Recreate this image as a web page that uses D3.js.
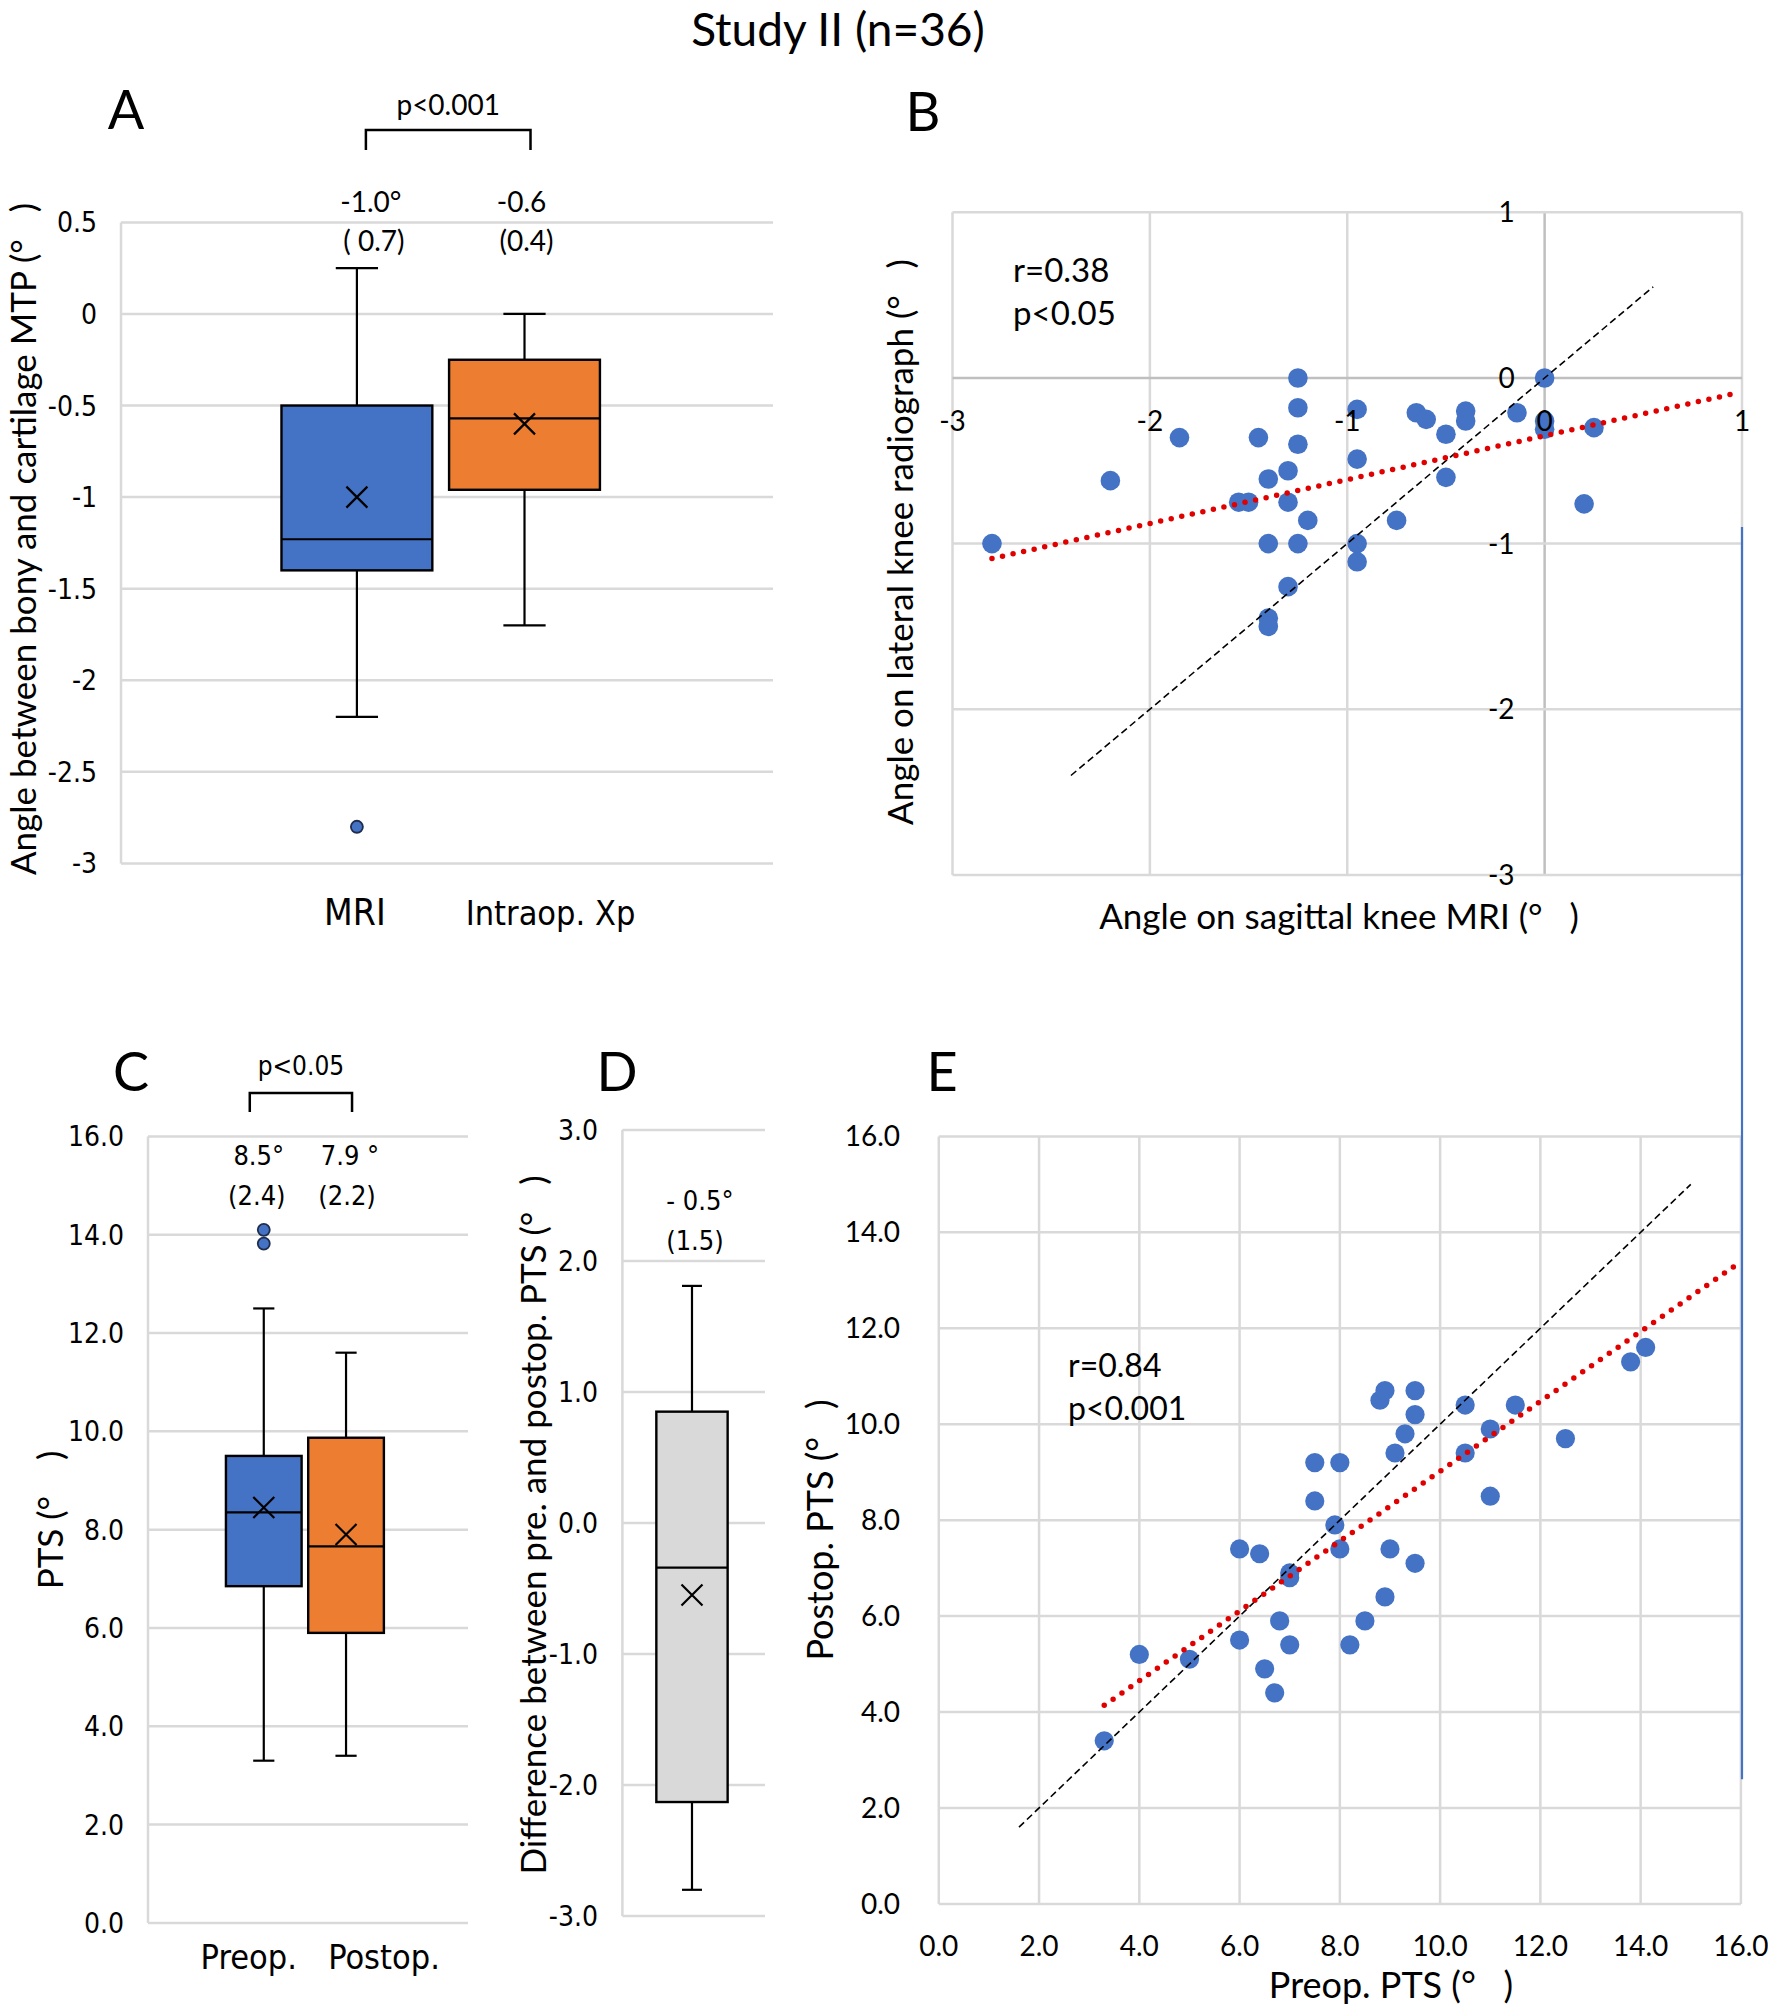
<!DOCTYPE html>
<html>
<head>
<meta charset="utf-8">
<script src="https://cdn.jsdelivr.net/npm/d3@7"></script>
<style>
  body { margin: 0; background: #fff; }
  text { white-space: pre; }
</style>
</head>
<body>
<div id="chart"></div>
<script>
// ---- data ----
const titleText = "Study II (n=36)";

// A: angle between bony and cartilage MTP
const catsA = ["MRI", "Intraop. Xp"];
const q1A = [-1.4, -0.96];
const medA = [-1.23, -0.57];
const q3A = [-0.5, -0.25];
const loA = [-2.2, -1.7];
const hiA = [0.25, 0];
const meanA = [-1.0, -0.6];
const outA = [[-2.8], []];
const meanTxtA = ["-1.0°", "-0.6"];
const sdTxtA = ["( 0.7)", "(0.4)"];
const ticksA = [0.5, 0, -0.5, -1, -1.5, -2, -2.5, -3];
const pTxtA = "p<0.001";

// B: MRI vs lateral radiograph
const mriB = [-2.8, -2.2, -1.85, -1.45, -1.55, -1.5, -1.4, -1.3, -1.3, -1.4, -1.25, -1.25,
  -1.25, -1.2, -1.25, -1.3, -1.4, -1.4, -0.95, -0.95, -0.95, -0.95, -0.75, -0.65, -0.6,
  -0.5, -0.5, -0.4, -0.4, -0.14, 0, 0, 0, 0.25, 0.2];
const xpB = [-1.0, -0.62, -0.36, -0.36, -0.75, -0.75, -0.61, -0.56, -0.75, -1.0, 0, -0.18,
  -0.4, -0.86, -1.0, -1.26, -1.45, -1.5, -0.19, -0.49, -1.0, -1.11, -0.86, -0.21, -0.25,
  -0.34, -0.6, -0.2, -0.26, -0.21, 0, -0.26, -0.31, -0.3, -0.76];
const ticksB = [-3, -2, -1, 0, 1];
const fitBx = [-2.8, 0.96];
const fitBy = [-1.09, -0.095];
const idB = [-2.4, 0.55];
const statB = ["r=0.38", "p<0.05"];

// C: preop / postop PTS
const catsC = ["Preop.", "Postop."];
const q1C = [6.85, 5.9];
const medC = [8.35, 7.66];
const q3C = [9.5, 9.87];
const loC = [3.3, 3.4];
const hiC = [12.5, 11.6];
const meanC = [8.45, 7.9];
const outC = [[14.1, 13.82], []];
const meanTxtC = ["8.5°", "7.9 °"];
const sdTxtC = ["(2.4)", "(2.2)"];
const ticksC = [0, 2, 4, 6, 8, 10, 12, 14, 16];
const pTxtC = "p<0.05";

// D: difference pre - postop PTS
const catsD = ["diff"];
const q1D = [-2.13];
const medD = [-0.34];
const q3D = [0.85];
const loD = [-2.8];
const hiD = [1.81];
const meanD = [-0.55];
const meanTxtD = ["- 0.5°"];
const sdTxtD = ["(1.5)"];
const ticksD = [-3, -2, -1, 0, 1, 2, 3];

// E: preop vs postop PTS
const preE = [3.3, 4.0, 5.0, 6.0, 6.0, 6.4, 6.5, 6.7, 6.8, 7.0, 7.0, 7.0, 7.5, 7.5, 7.9, 8.0,
  8.0, 8.2, 8.5, 8.8, 8.9, 8.9, 9.0, 9.1, 9.3, 9.5, 9.5, 9.5, 10.5, 10.5, 11.0, 11.0, 11.5,
  12.5, 13.8, 14.1];
const postE = [3.4, 5.2, 5.1, 7.4, 5.5, 7.3, 4.9, 4.4, 5.9, 6.9, 6.8, 5.4, 9.2, 8.4, 7.9, 9.2,
  7.4, 5.4, 5.9, 10.5, 10.7, 6.4, 7.4, 9.4, 9.8, 10.7, 10.2, 7.1, 10.4, 9.4, 9.9, 8.5, 10.4,
  9.7, 11.3, 11.6];
const ticksE = [0, 2, 4, 6, 8, 10, 12, 14, 16];
const fitEx = [3.3, 16];
const fitEy = [4.14, 13.39];
const idE = [1.6, 15];
const statE = ["r=0.84", "p<0.001"];

// ---- style ----
const GRID = "#d9d9d9", AXIS = "#bfbfbf";
const BLUE = "#4472c4", ORANGE = "#ed7d31", LIGHT = "#d9d9d9";
const CAL = "Lato, 'Open Sans', sans-serif";
const VER = "'DejaVu Sans Condensed', 'DejaVu Sans', sans-serif";
const DEG = "(°\u00a0\u00a0\u00a0)";

const svg = d3.select("#chart").append("svg")
  .attr("width", 1768).attr("height", 2012)
  .style("background", "#fff");

function txt(g, x, y, s, size, font, anchor) {
  return g.append("text").attr("x", x).attr("y", y)
    .attr("font-family", font).attr("font-size", size)
    .attr("text-anchor", anchor || "middle")
    .attr("fill", "#000").text(s);
}

function vlabel(g, x, y, s, size) {
  return g.append("text")
    .attr("transform", `translate(${x},${y}) rotate(-90)`)
    .attr("font-family", CAL).attr("font-size", size)
    .attr("text-anchor", "middle").text(s);
}

// horizontal gridlines + left axis + tick labels (box panels)
function boxFrame(g, y, ticks, x0, x1, fmt, labelX) {
  g.selectAll(".grid").data(ticks).enter().append("line")
    .attr("x1", x0).attr("x2", x1)
    .attr("y1", d => y(d)).attr("y2", d => y(d))
    .attr("stroke", GRID).attr("stroke-width", 2.5);
  g.append("line").attr("x1", x0).attr("x2", x0)
    .attr("y1", y(d3.max(ticks))).attr("y2", y(d3.min(ticks)))
    .attr("stroke", GRID).attr("stroke-width", 2.5);
  g.selectAll(".tick").data(ticks).enter().append("text")
    .attr("x", labelX).attr("y", d => y(d)).attr("dy", "0.36em")
    .attr("text-anchor", "end").attr("font-family", VER).attr("font-size", 28)
    .attr("font-stretch", "condensed")
    .text(fmt);
}

function boxes(g, x, y, bw, s) {
  s.cats.forEach((c, i) => {
    const cx = x(c), cap = bw * 0.28;
    const ln = (x1, y1, x2, y2) => g.append("line")
      .attr("x1", x1).attr("y1", y1).attr("x2", x2).attr("y2", y2)
      .attr("stroke", "#000").attr("stroke-width", 2.2);
    ln(cx, y(s.hi[i]), cx, y(s.q3[i]));
    ln(cx, y(s.q1[i]), cx, y(s.lo[i]));
    ln(cx - cap / 2, y(s.hi[i]), cx + cap / 2, y(s.hi[i]));
    ln(cx - cap / 2, y(s.lo[i]), cx + cap / 2, y(s.lo[i]));
    g.append("rect")
      .attr("x", cx - bw / 2).attr("width", bw)
      .attr("y", y(s.q3[i])).attr("height", y(s.q1[i]) - y(s.q3[i]))
      .attr("fill", s.colors[i]).attr("stroke", "#000").attr("stroke-width", 2.4);
    ln(cx - bw / 2, y(s.med[i]), cx + bw / 2, y(s.med[i]));
    const my = y(s.mean[i]), m = 10.5;
    g.append("path")
      .attr("d", `M${cx - m},${my - m}L${cx + m},${my + m}M${cx + m},${my - m}L${cx - m},${my + m}`)
      .attr("stroke", "#000").attr("stroke-width", 2.2).attr("fill", "none");
    g.selectAll(null).data(s.out ? s.out[i] : []).enter().append("ellipse")
      .attr("cx", cx).attr("cy", d => y(d)).attr("rx", 6).attr("ry", 6)
      .attr("fill", s.colors[i]).attr("stroke", "#1f2d4d").attr("stroke-width", 1.8);
  });
}

function bracket(g, xa, xb, top, bottom, label, labelY, size, font) {
  g.append("path")
    .attr("d", `M${xa},${bottom}V${top}H${xb}V${bottom}`)
    .attr("fill", "none").attr("stroke", "#000").attr("stroke-width", 2.5);
  return txt(g, (xa + xb) / 2, labelY, label, size, font);
}

// title
txt(svg, 838, 46, titleText, 46, CAL);

// ---- Panel A ----
{
  const g = svg.append("g");
  const y = d3.scaleLinear().domain([-3, 0.5]).range([863.4, 222.4]);
  const x = d3.scalePoint().domain(catsA).range([121, 773]).padding(1.445).align(0.487);
  boxFrame(g, y, ticksA, 121, 773, d => String(d), 97);
  boxes(g, x, y, x.step() * 0.9, {
    cats: catsA, q1: q1A, med: medA, q3: q3A, lo: loA, hi: hiA, mean: meanA, out: outA,
    colors: [BLUE, ORANGE]
  });
  const shiftTop = [14, -3], shiftSd = [17, 2], shiftCat = [-2, 26];
  const catSize = [37, 34];
  catsA.forEach((c, i) => {
    txt(g, x(c) + shiftTop[i], 212, meanTxtA[i], 28, CAL);
    txt(g, x(c) + shiftSd[i], 251, sdTxtA[i], 28, CAL);
    txt(g, x(c) + shiftCat[i], 925, c, catSize[i], VER).attr("font-stretch", "condensed");
  });
  bracket(g, x(catsA[0]) + 9, x(catsA[1]) + 6, 130, 150, pTxtA, 115, 28, CAL);
  txt(g, 126, 129, "A", 54, CAL);
  vlabel(g, 36, 539, "Angle between bony and cartilage MTP " + DEG, 35);
}

// ---- Panel B ----
{
  const g = svg.append("g");
  const x = d3.scaleLinear().domain([-3, 1]).range([952.5, 1742]);
  const y = d3.scaleLinear().domain([-3, 1]).range([874.9, 212.3]);
  g.selectAll(".vg").data(ticksB).enter().append("line")
    .attr("x1", d => x(d)).attr("x2", d => x(d)).attr("y1", y(1)).attr("y2", y(-3))
    .attr("stroke", d => d === 0 ? AXIS : GRID).attr("stroke-width", 2.5);
  g.selectAll(".hg").data(ticksB).enter().append("line")
    .attr("y1", d => y(d)).attr("y2", d => y(d)).attr("x1", x(-3)).attr("x2", x(1))
    .attr("stroke", d => d === 0 ? AXIS : GRID).attr("stroke-width", 2.5);
  g.selectAll(".pt").data(mriB).enter().append("circle")
    .attr("cx", d => x(d)).attr("cy", (d, i) => y(xpB[i])).attr("r", 9.8)
    .attr("fill", BLUE);
  g.append("line")
    .attr("x1", x(idB[0])).attr("y1", y(idB[0])).attr("x2", x(idB[1])).attr("y2", y(idB[1]))
    .attr("stroke", "#000").attr("stroke-width", 1.6).attr("stroke-dasharray", "7 4");
  g.append("line")
    .attr("x1", x(fitBx[0])).attr("y1", y(fitBy[0])).attr("x2", x(fitBx[1])).attr("y2", y(fitBy[1]))
    .attr("stroke", "#e00000").attr("stroke-width", 5.5)
    .attr("stroke-linecap", "round").attr("stroke-dasharray", "0 10.8");
  g.selectAll(".xl").data(ticksB).enter().append("text")
    .attr("x", d => x(d)).attr("y", y(0) + 53)
    .attr("text-anchor", "middle").attr("font-family", CAL).attr("font-size", 28)
    .text(d => String(d));
  g.selectAll(".yl").data(ticksB).enter().append("text")
    .attr("x", x(0) - 30).attr("y", d => y(d)).attr("dy", "0.36em")
    .attr("text-anchor", "end").attr("font-family", CAL).attr("font-size", 28)
    .text(d => String(d));
  txt(g, 1013, 282, statB[0], 33, CAL, "start");
  txt(g, 1013, 325, statB[1], 33, CAL, "start");
  txt(g, 923, 131, "B", 54, CAL);
  vlabel(g, 913, 542, "Angle on lateral knee radiograph " + DEG, 35);
  txt(g, 1339, 929, "Angle on sagittal knee MRI " + DEG, 35, CAL);
}

// ---- Panel C ----
{
  const g = svg.append("g");
  const y = d3.scaleLinear().domain([0, 16]).range([1922.9, 1136.4]);
  const x = d3.scalePoint().domain(catsC).range([148, 468]).padding(1.445).align(0.487);
  boxFrame(g, y, ticksC, 148, 468, d => d.toFixed(1), 124);
  boxes(g, x, y, x.step() * 0.92, {
    cats: catsC, q1: q1C, med: medC, q3: q3C, lo: loC, hi: hiC, mean: meanC, out: outC,
    colors: [BLUE, ORANGE]
  });
  const shiftTop = [-5, 4], shiftSd = [-7, 1], shiftCat = [-15, 38];
  catsC.forEach((c, i) => {
    txt(g, x(c) + shiftTop[i], 1165, meanTxtC[i], 27, VER).attr("font-stretch", "condensed");
    txt(g, x(c) + shiftSd[i], 1205, sdTxtC[i], 27, VER).attr("font-stretch", "condensed");
    txt(g, x(c) + shiftCat[i], 1969, c, 34, VER).attr("font-stretch", "condensed");
  });
  bracket(g, x(catsC[0]) - 14, x(catsC[1]) + 6, 1093, 1112, pTxtC, 1075, 26, VER)
    .attr("font-stretch", "condensed");
  txt(g, 131, 1091, "C", 54, CAL);
  vlabel(g, 63, 1520, "PTS (°\u00a0\u00a0\u00a0\u00a0)", 35);
}

// ---- Panel D ----
{
  const g = svg.append("g");
  const y = d3.scaleLinear().domain([-3, 3]).range([1916, 1130]);
  const x = d3.scalePoint().domain(catsD).range([622.4, 765]).padding(0.5).align(0.488);
  boxFrame(g, y, ticksD, 622.4, 765, d => d.toFixed(1), 598);
  boxes(g, x, y, x.step() * 0.5, {
    cats: catsD, q1: q1D, med: medD, q3: q3D, lo: loD, hi: hiD, mean: meanD,
    colors: [LIGHT]
  });
  txt(g, x(catsD[0]) + 8, 1210, meanTxtD[0], 27, VER).attr("font-stretch", "condensed");
  txt(g, x(catsD[0]) + 3, 1250, sdTxtD[0], 27, VER).attr("font-stretch", "condensed");
  txt(g, 617, 1091, "D", 54, CAL);
  vlabel(g, 546, 1525, "Difference between pre. and postop. PTS " + DEG, 35);
}

// ---- Panel E ----
const xB1 = d3.scaleLinear().domain([-3, 1]).range([952.5, 1742]);
const yB1 = d3.scaleLinear().domain([-3, 1]).range([874.9, 212.3]);
{
  const g = svg.append("g");
  const x = d3.scaleLinear().domain([0, 16]).range([938.8, 1740.9]);
  const y = d3.scaleLinear().domain([0, 16]).range([1903.9, 1136.4]);
  g.selectAll(".vg").data(ticksE).enter().append("line")
    .attr("x1", d => x(d)).attr("x2", d => x(d)).attr("y1", y(16)).attr("y2", y(0))
    .attr("stroke", GRID).attr("stroke-width", 2.5);
  g.selectAll(".hg").data(ticksE).enter().append("line")
    .attr("y1", d => y(d)).attr("y2", d => y(d)).attr("x1", x(0)).attr("x2", x(16))
    .attr("stroke", GRID).attr("stroke-width", 2.5);
  g.selectAll(".pt").data(preE).enter().append("circle")
    .attr("cx", d => x(d)).attr("cy", (d, i) => y(postE[i])).attr("r", 9.6)
    .attr("fill", BLUE);
  g.append("line")
    .attr("x1", x(idE[0])).attr("y1", y(idE[0])).attr("x2", x(idE[1])).attr("y2", y(idE[1]))
    .attr("stroke", "#000").attr("stroke-width", 1.6).attr("stroke-dasharray", "7 4");
  g.append("line")
    .attr("x1", x(fitEx[0])).attr("y1", y(fitEy[0])).attr("x2", x(fitEx[1])).attr("y2", y(fitEy[1]))
    .attr("stroke", "#e00000").attr("stroke-width", 5.5)
    .attr("stroke-linecap", "round").attr("stroke-dasharray", "0 10.8");
  g.selectAll(".xl").data(ticksE).enter().append("text")
    .attr("x", d => x(d)).attr("y", 1956)
    .attr("text-anchor", "middle").attr("font-family", CAL).attr("font-size", 28)
    .text(d => d.toFixed(1));
  g.selectAll(".yl").data(ticksE).enter().append("text")
    .attr("x", 900).attr("y", d => y(d)).attr("dy", "0.36em")
    .attr("text-anchor", "end").attr("font-family", CAL).attr("font-size", 28)
    .text(d => d.toFixed(1));
  txt(g, 1068, 1377, statE[0], 32, CAL, "start");
  txt(g, 1068, 1420, statE[1], 32, CAL, "start");
  txt(g, 942, 1091, "E", 54, CAL);
  vlabel(g, 833, 1530, "Postop. PTS " + DEG, 36);
  txt(g, 1391, 1998, "Preop. PTS " + DEG, 36, CAL);

  // stray vertical rule at the right edge, spanning B to E
  svg.append("line")
    .attr("x1", xB1(1)).attr("x2", xB1(1)).attr("y1", yB1(-0.9)).attr("y2", y(2.6))
    .attr("stroke", BLUE).attr("stroke-width", 2.2);
}
</script>
</body>
</html>
